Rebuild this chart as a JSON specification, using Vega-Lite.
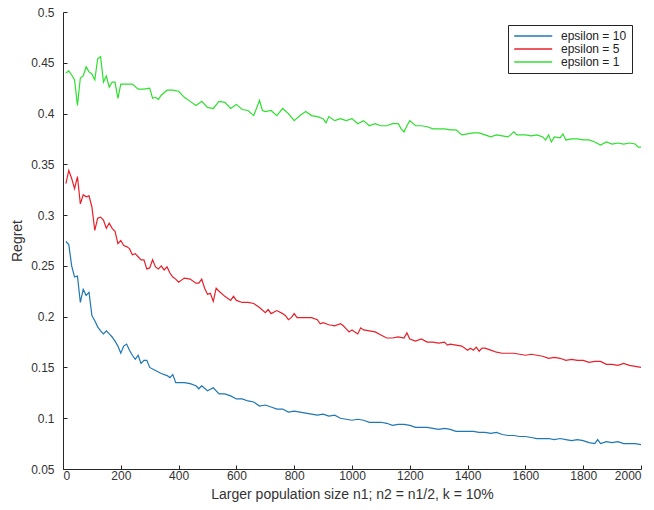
{
  "$schema": "https://vega.github.io/schema/vega-lite/v6.json",
  "width": 578,
  "height": 457,
  "autosize": "none",
  "padding": {"left": 63, "top": 12, "right": 13, "bottom": 41},
  "background": "white",
  "config": {
    "font": "Liberation Sans",
    "view": {"stroke": null},
    "axis": {"grid": false, "domainColor": "#262626", "tickColor": "#262626", "labelColor": "#333333", "titleColor": "#333333", "labelFontSize": 12, "titleFontSize": 14, "titleFontWeight": "normal", "tickSize": -4, "domainWidth": 1}
  },
  "datasets": {
    "g": [[10,0.44],[20,0.442],[30,0.438],[40,0.433],[50,0.408],[60,0.435],[70,0.437],[80,0.446],[90,0.441],[100,0.439],[110,0.433],[120,0.454],[130,0.456],[140,0.431],[150,0.437],[160,0.426],[170,0.431],[180,0.431],[190,0.415],[200,0.429],[220,0.429],[240,0.429],[260,0.424],[280,0.424],[300,0.425],[310,0.415],[320,0.416],[330,0.414],[340,0.418],[360,0.423],[380,0.423],[400,0.422],[420,0.416],[440,0.412],[460,0.408],[480,0.412],[500,0.406],[520,0.405],[540,0.412],[560,0.411],[580,0.405],[600,0.409],[620,0.404],[640,0.403],[660,0.398],[680,0.413],[690,0.403],[700,0.402],[720,0.403],[740,0.398],[760,0.405],[780,0.4],[800,0.393],[820,0.398],[840,0.402],[860,0.398],[880,0.397],[900,0.395],[910,0.391],[920,0.397],[940,0.393],[960,0.395],[980,0.393],[1000,0.395],[1020,0.39],[1040,0.393],[1060,0.388],[1080,0.39],[1100,0.388],[1120,0.388],[1140,0.39],[1160,0.39],[1170,0.385],[1180,0.382],[1190,0.388],[1200,0.393],[1220,0.388],[1240,0.388],[1260,0.387],[1280,0.385],[1300,0.385],[1320,0.385],[1340,0.384],[1360,0.384],[1380,0.379],[1400,0.38],[1420,0.381],[1440,0.381],[1460,0.379],[1480,0.377],[1500,0.379],[1520,0.378],[1540,0.377],[1560,0.382],[1570,0.379],[1580,0.379],[1600,0.379],[1620,0.378],[1640,0.379],[1660,0.377],[1670,0.374],[1680,0.379],[1690,0.372],[1700,0.377],[1720,0.376],[1730,0.38],[1740,0.374],[1760,0.375],[1780,0.375],[1800,0.374],[1820,0.374],[1840,0.372],[1860,0.369],[1880,0.372],[1900,0.37],[1920,0.371],[1940,0.37],[1960,0.371],[1980,0.37],[1990,0.367],[2000,0.367]],
    "r": [[10,0.331],[20,0.344],[30,0.336],[40,0.326],[50,0.338],[60,0.311],[70,0.32],[80,0.318],[90,0.319],[100,0.308],[110,0.285],[120,0.297],[130,0.298],[140,0.295],[150,0.287],[160,0.292],[170,0.287],[180,0.284],[190,0.272],[200,0.275],[210,0.27],[220,0.269],[230,0.267],[240,0.261],[250,0.262],[260,0.259],[270,0.256],[280,0.256],[290,0.247],[300,0.248],[310,0.256],[320,0.249],[330,0.247],[340,0.25],[350,0.246],[360,0.249],[370,0.243],[380,0.239],[390,0.237],[400,0.234],[420,0.238],[440,0.237],[460,0.233],[470,0.233],[480,0.237],[490,0.228],[500,0.222],[510,0.223],[520,0.215],[530,0.228],[540,0.225],[560,0.22],[580,0.216],[590,0.22],[600,0.216],[620,0.214],[640,0.214],[660,0.213],[680,0.209],[700,0.204],[710,0.207],[720,0.203],[740,0.206],[760,0.203],[770,0.201],[780,0.197],[790,0.199],[800,0.203],[810,0.199],[820,0.199],[840,0.199],[860,0.199],[880,0.197],[890,0.193],[900,0.194],[920,0.192],[940,0.191],[960,0.193],[970,0.191],[980,0.188],[990,0.185],[1000,0.187],[1010,0.185],[1020,0.183],[1030,0.189],[1040,0.187],[1060,0.186],[1080,0.185],[1100,0.182],[1120,0.179],[1140,0.179],[1160,0.18],[1180,0.179],[1190,0.184],[1200,0.178],[1220,0.176],[1240,0.178],[1260,0.175],[1280,0.175],[1300,0.174],[1320,0.175],[1330,0.172],[1340,0.173],[1360,0.172],[1380,0.171],[1400,0.167],[1410,0.169],[1420,0.167],[1430,0.17],[1440,0.166],[1450,0.169],[1460,0.169],[1480,0.167],[1500,0.165],[1520,0.164],[1540,0.164],[1560,0.164],[1580,0.163],[1600,0.162],[1620,0.163],[1640,0.162],[1660,0.161],[1680,0.159],[1700,0.16],[1720,0.159],[1740,0.157],[1760,0.158],[1780,0.157],[1800,0.157],[1820,0.155],[1840,0.156],[1860,0.156],[1880,0.153],[1900,0.153],[1920,0.152],[1940,0.154],[1960,0.152],[1980,0.151],[2000,0.15]],
    "b": [[10,0.274],[20,0.271],[30,0.25],[40,0.239],[50,0.24],[60,0.214],[70,0.227],[80,0.221],[90,0.224],[100,0.201],[110,0.196],[120,0.19],[130,0.186],[140,0.183],[150,0.186],[160,0.183],[170,0.18],[180,0.176],[190,0.171],[200,0.164],[210,0.171],[220,0.173],[230,0.167],[240,0.162],[250,0.158],[260,0.162],[270,0.154],[280,0.157],[290,0.157],[300,0.15],[320,0.147],[340,0.144],[360,0.142],[370,0.14],[380,0.143],[390,0.135],[400,0.135],[420,0.135],[440,0.134],[460,0.132],[470,0.129],[480,0.132],[500,0.127],[520,0.13],[540,0.124],[560,0.124],[580,0.122],[600,0.119],[620,0.119],[640,0.117],[660,0.116],[680,0.112],[700,0.113],[720,0.111],[740,0.109],[760,0.109],[780,0.106],[800,0.107],[820,0.106],[840,0.105],[860,0.104],[880,0.103],[900,0.104],[920,0.102],[940,0.103],[960,0.1],[980,0.099],[1000,0.098],[1020,0.099],[1040,0.098],[1060,0.096],[1080,0.096],[1100,0.096],[1120,0.095],[1140,0.093],[1160,0.094],[1180,0.094],[1200,0.093],[1220,0.091],[1240,0.091],[1260,0.091],[1280,0.09],[1300,0.089],[1320,0.09],[1340,0.089],[1360,0.087],[1380,0.087],[1400,0.087],[1420,0.087],[1440,0.086],[1460,0.086],[1480,0.085],[1500,0.086],[1520,0.084],[1540,0.083],[1560,0.083],[1580,0.082],[1600,0.082],[1620,0.081],[1640,0.08],[1660,0.08],[1680,0.08],[1700,0.079],[1720,0.08],[1740,0.079],[1760,0.078],[1780,0.079],[1800,0.078],[1820,0.076],[1840,0.075],[1850,0.079],[1860,0.075],[1880,0.077],[1900,0.076],[1920,0.077],[1940,0.075],[1960,0.075],[1980,0.075],[2000,0.074]]
  },
  "layer": [
    {"data": {"name": "b"}, "transform": [{"calculate": "'epsilon = 10'", "as": "series"}, {"calculate": "datum[0]", "as": "n"}, {"calculate": "datum[1]", "as": "regret"}], "mark": {"type": "line", "strokeWidth": 1.2, "clip": true}, "encoding": {"x": {"field": "n", "type": "quantitative"}, "y": {"field": "regret", "type": "quantitative"}, "color": {"field": "series", "type": "nominal"}}},
    {"data": {"name": "r"}, "transform": [{"calculate": "'epsilon = 5'", "as": "series"}, {"calculate": "datum[0]", "as": "n"}, {"calculate": "datum[1]", "as": "regret"}], "mark": {"type": "line", "strokeWidth": 1.2, "clip": true}, "encoding": {"x": {"field": "n", "type": "quantitative"}, "y": {"field": "regret", "type": "quantitative"}, "color": {"field": "series", "type": "nominal"}}},
    {"data": {"name": "g"}, "transform": [{"calculate": "'epsilon = 1'", "as": "series"}, {"calculate": "datum[0]", "as": "n"}, {"calculate": "datum[1]", "as": "regret"}], "mark": {"type": "line", "strokeWidth": 1.2, "clip": true},
     "encoding": {
      "x": {"field": "n", "type": "quantitative", "scale": {"domain": [0, 2000], "nice": false}, "axis": {"values": [0,200,400,600,800,1000,1200,1400,1600,1800,2000], "format": "d", "title": "Larger population size n1; n2 = n1/2, k = 10%", "labelPadding": 5, "titlePadding": 6}},
      "y": {"field": "regret", "type": "quantitative", "scale": {"domain": [0.05, 0.5], "nice": false, "zero": false}, "axis": {"values": [0.05,0.1,0.15,0.2,0.25,0.3,0.35,0.4,0.45,0.5], "format": ".2~f", "title": "Regret", "labelPadding": 13, "titlePadding": 6}},
      "color": {"field": "series", "type": "nominal", "scale": {"domain": ["epsilon = 10", "epsilon = 5", "epsilon = 1"], "range": ["#1f77b4", "#e8202a", "#2ee02e"]},
        "legend": {"title": null, "orient": "none", "legendX": 445, "legendY": 13, "symbolType": "M-1,0H7", "symbolSize": 90, "symbolStrokeWidth": 1.5, "labelFontSize": 12, "labelColor": "#222222", "strokeColor": "#222222", "fillColor": "white", "padding": 5, "rowPadding": 1, "labelOffset": 36}}
     }}
  ]
}
